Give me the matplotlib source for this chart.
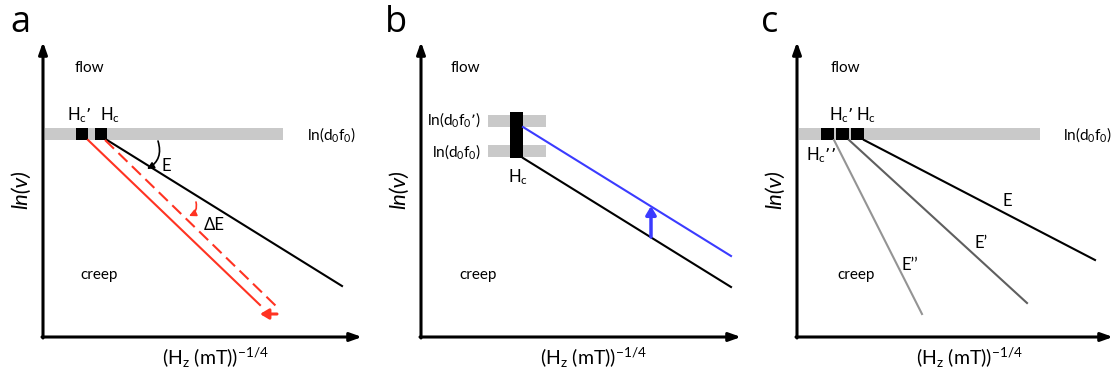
# schematic of creep law: ln(v) vs (Hz)^-1/4, three cases a, b, c
import numpy as np
import matplotlib
matplotlib.use('Agg')
import matplotlib.pyplot as plt
from matplotlib.patches import Rectangle

plt.rcParams['font.family'] = ['Lato', 'DejaVu Sans']
plt.rcParams['mathtext.default'] = 'regular'

# all panels share one frame: origin at the axes corner, units ~ pixels
x_end = [319, 320, 316]
y_end = 295
letters = ['a', 'b', 'c']
origins_px = [43, 421, 797]

# panel a
a_band = (2, 240, 197, 209)
a_boxes = [33, 52]
a_box_w = 12
a_E = ([64, 299], [197, 51])
a_red = ([45, 217], [197, 32])
a_red_dash = ([62, 234], [197, 30])
a_shift = ([234, 217], [23, 23])

# panel b
b_bands = [(67, 125, 210, 222), (67, 125, 180, 192)]
b_bar = (89, 102, 179, 225)
b_black = ([102, 310], [179, 50])
b_blue = ([102, 310], [210, 81])
b_up = (230, 100, 131)

# panel c
c_band = (2, 243, 197, 209)
c_boxes = [24, 39, 54]
c_box_w = 13
c_E = ([67, 298], [197, 77])
c_E1 = ([52, 230], [197, 34])
c_E2 = ([37, 125], [197, 23])

W, H = 1113, 374
fig = plt.figure(figsize=(W / 100, H / 100), dpi=100)

def make_ax(i):
    ox = origins_px[i]
    # axes spans whole panel strip, data = pixel offset from origin
    x0 = [0, 371, 742][i]
    x1 = [371, 742, 1113][i]
    ax = fig.add_axes([x0 / W, 0, (x1 - x0) / W, 1])
    ax.set_xlim(x0 - ox, x1 - ox)
    ax.set_ylim(-(H - 337), 337)
    ax.axis('off')
    # axes with arrow heads
    ax.annotate('', xy=(0, y_end), xytext=(0, -1),
                arrowprops=dict(arrowstyle='-|>,head_length=0.7,head_width=0.25',
                                lw=2.2, color='black', shrinkA=0, shrinkB=0))
    ax.annotate('', xy=(x_end[i], 0), xytext=(-1, 0),
                arrowprops=dict(arrowstyle='-|>,head_length=0.7,head_width=0.25',
                                lw=2.2, color='black', shrinkA=0, shrinkB=0))
    ax.text(-[23, 25, 27][i], 314, letters[i], fontsize=26, ha='center', va='center',
            family=['Open Sans', 'DejaVu Sans'])
    ax.text(-22, 147, 'ln(v)', rotation=90, fontsize=16, style='italic',
            ha='center', va='center')
    ax.text(172, -21, '(H$_z$ (mT))$^{-1/4}$', fontsize=14, ha='center', va='center')
    ax.text([32, 30, 34][i], 269, 'flow', fontsize=11, ha='left', va='center')
    ax.text([37, 38, 40][i], 62, 'creep', fontsize=11, ha='left', va='center')
    return ax

gray = '#c9c9c9'

# ---- a
ax = make_ax(0)
ax.add_patch(Rectangle((a_band[0], a_band[2]), a_band[1] - a_band[0],
                       a_band[3] - a_band[2], color=gray, lw=0))
for bx in a_boxes:
    ax.add_patch(Rectangle((bx, a_band[2]), a_box_w, a_band[3] - a_band[2],
                           color='black', lw=0))
ax.plot(*a_E, color='black', lw=1.5)
ax.plot(*a_red, color='#ff3322', lw=1.5)
ax.plot(*a_red_dash, color='#ff3322', lw=1.5, dashes=(6, 3))
ax.annotate('', xy=(a_shift[0][1], a_shift[1][1]),
            xytext=(a_shift[0][0], a_shift[1][0]),
            arrowprops=dict(arrowstyle='-|>,head_length=0.5,head_width=0.3',
                            lw=2.2, color='#ff3322', shrinkA=0, shrinkB=0))
ax.annotate('', xy=(104, 168), xytext=(115, 196),
            arrowprops=dict(arrowstyle='-|>,head_length=0.4,head_width=0.2',
                            lw=1.2, color='black', connectionstyle='arc3,rad=-0.4',
                            shrinkA=0, shrinkB=0))
ax.annotate('', xy=(146, 121), xytext=(153, 135),
            arrowprops=dict(arrowstyle='-|>,head_length=0.4,head_width=0.2',
                            lw=1.2, color='#ff3322', connectionstyle='arc3,rad=-0.4',
                            shrinkA=0, shrinkB=0))
ax.text(123, 171, 'E', fontsize=12, ha='center', va='center')
ax.text(171, 112, '\u0394E', fontsize=12, ha='center', va='center')
ax.text(36, 222, 'H$_c$\u2019', fontsize=12, ha='center', va='center')
ax.text(67, 222, 'H$_c$', fontsize=12, ha='center', va='center')
ax.text(264, 202, 'ln(d$_0$f$_0$)', fontsize=11, ha='left', va='center')

# ---- b
ax = make_ax(1)
for b in b_bands:
    ax.add_patch(Rectangle((b[0], b[2]), b[1] - b[0], b[3] - b[2], color=gray, lw=0))
ax.add_patch(Rectangle((b_bar[0], b_bar[2]), b_bar[1] - b_bar[0], b_bar[3] - b_bar[2],
                       color='black', lw=0))
ax.plot(*b_black, color='black', lw=1.5)
ax.plot(*b_blue, color='#3b3bff', lw=1.5)
ax.annotate('', xy=(b_up[0], b_up[2]), xytext=(b_up[0], b_up[1]),
            arrowprops=dict(arrowstyle='-|>,head_length=0.5,head_width=0.3',
                            lw=2.5, color='#3b3bff', shrinkA=0, shrinkB=0))
ax.text(60, 217, 'ln(d$_0$f$_0$\u2019)', fontsize=11, ha='right', va='center')
ax.text(60, 185, 'ln(d$_0$f$_0$)', fontsize=11, ha='right', va='center')
ax.text(97, 160, 'H$_c$', fontsize=12, ha='center', va='center')

# ---- c
ax = make_ax(2)
ax.add_patch(Rectangle((c_band[0], c_band[2]), c_band[1] - c_band[0],
                       c_band[3] - c_band[2], color=gray, lw=0))
for bx in c_boxes:
    ax.add_patch(Rectangle((bx, c_band[2]), c_box_w, c_band[3] - c_band[2],
                           color='black', lw=0))
ax.plot(*c_E, color='black', lw=1.5)
ax.plot(*c_E1, color='#5f5f5f', lw=1.5)
ax.plot(*c_E2, color='#949494', lw=1.5)
ax.text(210, 136, 'E', fontsize=12, ha='center', va='center')
ax.text(184, 94, 'E\u2019', fontsize=12, ha='center', va='center')
ax.text(113, 72, 'E\u2019\u2019', fontsize=12, ha='center', va='center')
ax.text(44, 222, 'H$_c$\u2019', fontsize=12, ha='center', va='center')
ax.text(69, 222, 'H$_c$', fontsize=12, ha='center', va='center')
ax.text(24, 182, 'H$_c$\u2019\u2019', fontsize=12, ha='center', va='center')
ax.text(266, 202, 'ln(d$_0$f$_0$)', fontsize=11, ha='left', va='center')

fig.savefig('out.png', dpi=100)
